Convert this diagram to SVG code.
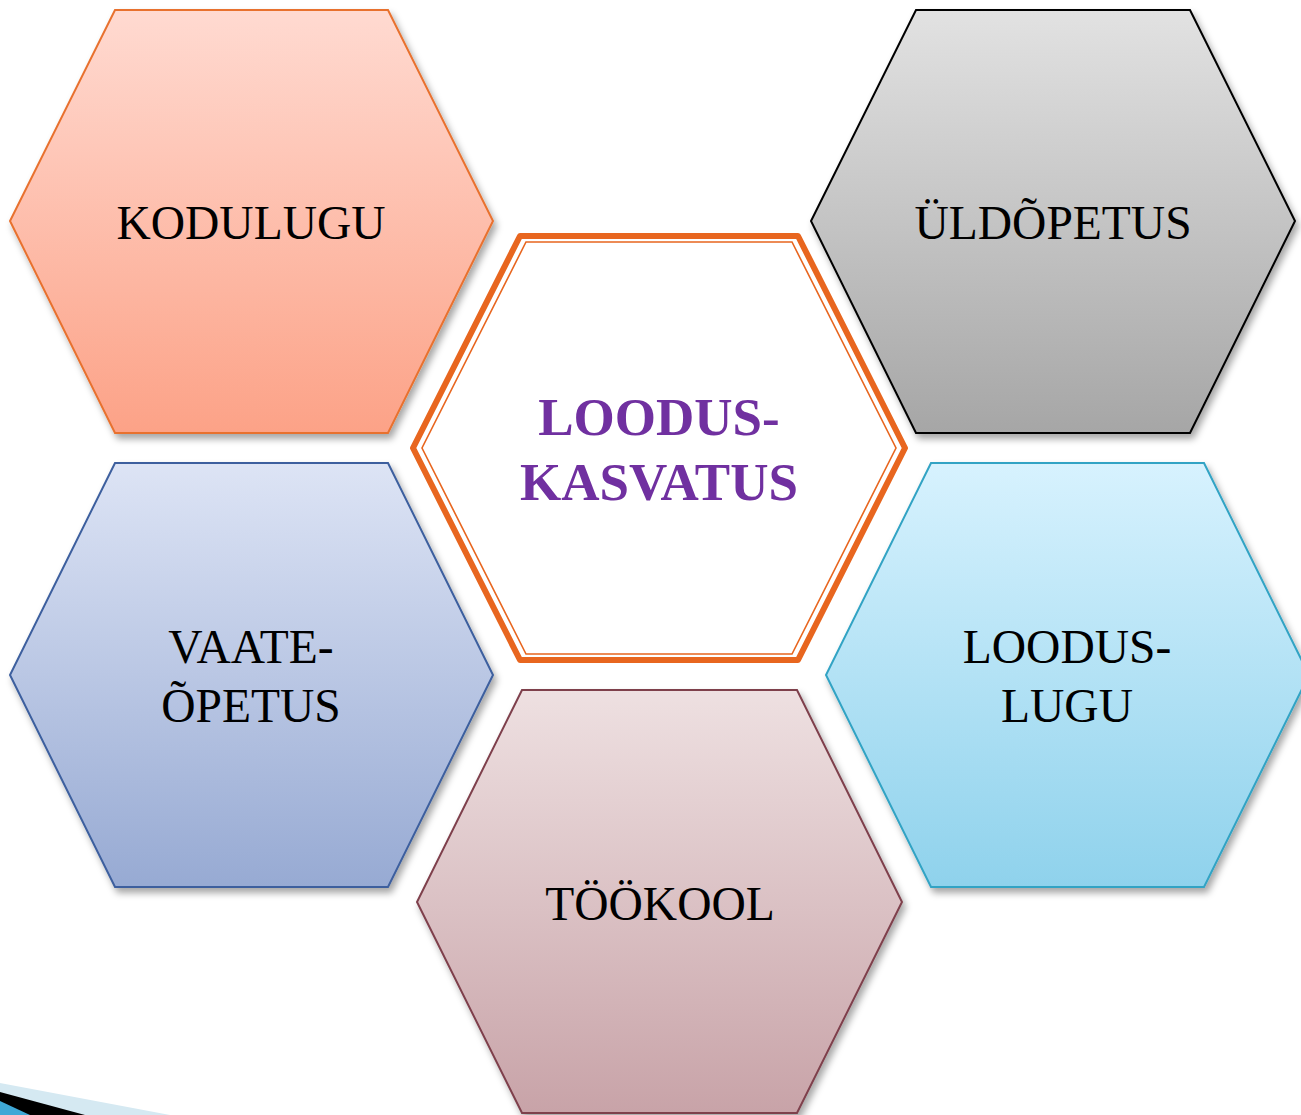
<svg xmlns="http://www.w3.org/2000/svg" width="1301" height="1115" viewBox="0 0 1301 1115">
<style>
.lbl{font-family:"Liberation Serif","Times New Roman",serif;font-size:47.5px;fill:#000;text-anchor:middle}
.ctr{font-family:"Liberation Serif","Times New Roman",serif;font-size:53px;font-weight:bold;fill:#7030A0;text-anchor:middle}
</style>
<defs>
<filter id="sh" x="-10%" y="-10%" width="125%" height="125%">
<feDropShadow dx="3" dy="5" stdDeviation="3.5" flood-color="#000" flood-opacity="0.35"/>
</filter>
<linearGradient id="gOr" x1="0" y1="0" x2="0" y2="1"><stop offset="0" stop-color="#FFDAD1"/><stop offset="1" stop-color="#FCA287"/></linearGradient>
<linearGradient id="gGr" x1="0" y1="0" x2="0" y2="1"><stop offset="0" stop-color="#E2E2E2"/><stop offset="1" stop-color="#A6A6A6"/></linearGradient>
<linearGradient id="gBl" x1="0" y1="0" x2="0" y2="1"><stop offset="0" stop-color="#DDE4F5"/><stop offset="1" stop-color="#97AAD3"/></linearGradient>
<linearGradient id="gCy" x1="0" y1="0" x2="0" y2="1"><stop offset="0" stop-color="#D7F2FE"/><stop offset="1" stop-color="#8FD2EC"/></linearGradient>
<linearGradient id="gRo" x1="0" y1="0" x2="0" y2="1"><stop offset="0" stop-color="#EEE0E1"/><stop offset="1" stop-color="#C8A3A8"/></linearGradient>
</defs>
<rect width="1301" height="1115" fill="#fff"/>
<g id="decor">
<polygon points="0,1083 170,1115 0,1115" fill="#D5E9F2"/>
<polygon points="0,1092 85,1115 0,1115" fill="#000"/>
<polygon points="0,1101 30,1115 0,1115" fill="#3FA8D6"/>
</g>
<g id="connectors"></g>
<g id="kodulugu">
<polygon points="115,10 388,10 493,221 388,433 115,433 10,221" fill="url(#gOr)" stroke="#E8712F" stroke-width="2" filter="url(#sh)"/>
<text class="lbl" x="251" y="239">KODULUGU</text>
</g>
<g id="uldopetus">
<polygon points="916,10 1190,10 1295,221 1190,433 916,433 811,221" fill="url(#gGr)" stroke="#000" stroke-width="2" filter="url(#sh)"/>
<text class="lbl" x="1053" y="239">ÜLDÕPETUS</text>
</g>
<g id="vaateopetus">
<polygon points="115,463 388,463 493,675 388,887 115,887 10,675" fill="url(#gBl)" stroke="#3C5F9E" stroke-width="2" filter="url(#sh)"/>
<text class="lbl" x="251" y="663">VAATE-</text>
<text class="lbl" x="251" y="722">ÕPETUS</text>
</g>
<g id="loodusluugu">
<polygon points="931,463 1204,463 1309,675 1204,887 931,887 826,675" fill="url(#gCy)" stroke="#31A3C4" stroke-width="2" filter="url(#sh)"/>
<text class="lbl" x="1067" y="663">LOODUS-</text>
<text class="lbl" x="1067" y="722">LUGU</text>
</g>
<g id="tookool">
<polygon points="522,690 797,690 902,902 797,1113 522,1113 417,902" fill="url(#gRo)" stroke="#7E3F4C" stroke-width="2" filter="url(#sh)"/>
<text class="lbl" x="660" y="920">TÖÖKOOL</text>
</g>
<g id="loodukasvatus">
<polygon points="520,236 798,236 905,448 798,660 520,660 413,448" fill="#fff" stroke="#E8661F" stroke-width="6" stroke-linejoin="round"/>
<polygon points="526,242 792,242 896,448 792,654 526,654 422,448" fill="none" stroke="#E8661F" stroke-width="1.6"/>
<text class="ctr" x="659" y="435">LOODUS-</text>
<text class="ctr" x="659" y="500">KASVATUS</text>
</g>
</svg>
